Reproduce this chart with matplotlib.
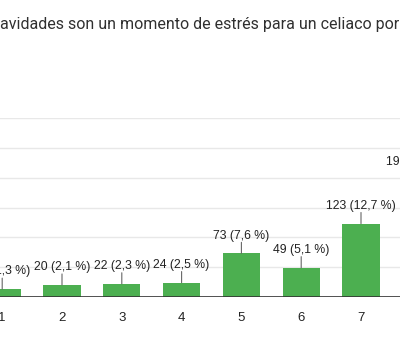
import numpy as np
import matplotlib
matplotlib.use("Agg")
import matplotlib.pyplot as plt

# values
categories = [1, 2, 3, 4, 5, 6, 7, 8]
counts = [13, 20, 22, 24, 73, 49, 123, 197]
percents = ["1,3", "2,1", "2,3", "2,5", "7,6", "5,1", "12,7", "20,4"]
title = "avidades son un momento de estrés para un celiaco por"

bar_color = "#4CAF50"
W, H = 400, 353
fig = plt.figure(figsize=(W / 100, H / 100), dpi=100)

# axes placed in pixel terms: baseline at y=297, 300 units at y=118
x_left = 1 - 2.2 / 59.8
x_right = 1 + (400 - 2.2) / 59.8
ax = fig.add_axes([0, (H - 297) / H, 1, (297 - 118) / H])
ax.set_xlim(x_left, x_right)
ax.set_ylim(0, 300)

for s in ax.spines.values():
    s.set_visible(False)
ax.set_yticks([50, 100, 150, 200, 250, 300])
ax.yaxis.grid(True, color="#e8e8e8", linewidth=1)
ax.set_axisbelow(True)
ax.tick_params(left=False, labelleft=False, bottom=False)
ax.axhline(0, color="#333333", linewidth=1.2, zorder=3)

ax.bar(categories, counts, width=0.62, color=bar_color, zorder=2, clip_on=False)
ax.set_xticks(categories[:7])
ax.set_xticklabels([str(c) for c in categories[:7]], fontsize=9.5,
                   color="#222222", family="Liberation Sans")
ax.tick_params(axis="x", pad=7)

for c, v, p in zip(categories, counts, percents):
    ax.annotate("", xy=(c, v), xytext=(0, 8), textcoords="offset points",
                arrowprops=dict(arrowstyle="-", color="#666666", lw=0.8,
                                shrinkA=0, shrinkB=0),
                annotation_clip=False)
    ax.annotate(f"{v} ({p} %)", xy=(c, v), xytext=(0, 8.5),
                textcoords="offset points", ha="center", va="bottom",
                fontsize=8.8, color="#222222", family="Liberation Sans",
                annotation_clip=False)

fig.text(0, 1 - 25 / H, title, ha="left", va="center", fontsize=11.5,
         color="#303030", family="Roboto")

fig.savefig("out.png", dpi=100)
